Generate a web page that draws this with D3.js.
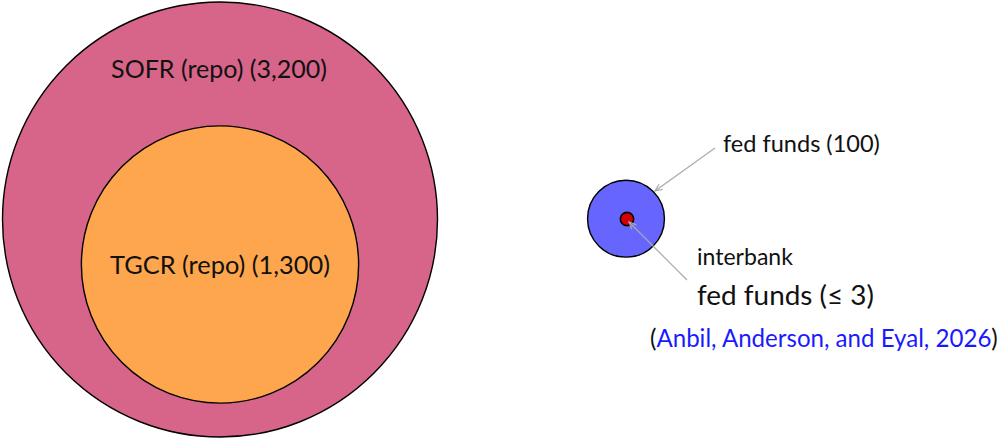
<!DOCTYPE html>
<html><head><meta charset="utf-8">
<script src="https://cdn.jsdelivr.net/npm/d3@7"></script>
<style>body{margin:0;background:#fff}svg{display:block}text{font-family:Lato,"DejaVu Sans",sans-serif;fill:#111}</style>
</head><body>
<svg id="c" width="1000" height="439"></svg>
<script>
const names = ["SOFR (repo)", "TGCR (repo)", "fed funds", "interbank fed funds"];
const values = [3200, 1300, 100, 3];
const labels = ["SOFR (repo) (3,200)", "TGCR (repo) (1,300)", "fed funds (100)", "fed funds (≤ 3)"];
const colors = ["#D76489", "#FDA64D", "#6666FF", "#D40000"];
const citation = ["Anbil, Anderson, and Eyal, 2026"];

const svg = d3.select("#c");
const r = d3.scaleSqrt().domain([0, 3200]).range([0, 217.5]);

// positions of the bubbles
const cx = [220, 220, 626, 627];
const cy = [219.5, 264.5, 218.7, 219];

svg.append("defs").append("marker").attr("id","arr").attr("viewBox","0 0 10 10")
  .attr("refX",9).attr("refY",5).attr("markerWidth",9).attr("markerHeight",9)
  .attr("orient","auto-start-reverse").attr("markerUnits","userSpaceOnUse")
  .append("path").attr("d","M1,1.5 L9,5 L1,8.5").attr("fill","none").attr("stroke","#aaa").attr("stroke-width",1.3);

svg.selectAll("circle.b").data(values).join("circle").attr("class","b")
  .attr("cx",(d,i)=>cx[i]).attr("cy",(d,i)=>cy[i]).attr("r",d=>r(d))
  .attr("fill",(d,i)=>colors[i]).attr("stroke","#000").attr("stroke-width",(d,i)=>i==3?1.6:1.4);

// arrows
svg.append("line").attr("x1",715).attr("y1",148).attr("x2",655).attr("y2",191)
  .attr("stroke","#aaa").attr("stroke-width",1.2).attr("marker-end","url(#arr)");
svg.append("line").attr("x1",687).attr("y1",280).attr("x2",629).attr("y2",222)
  .attr("stroke","#aaa").attr("stroke-width",1.2).attr("marker-end","url(#arr)");

function fitText(sel, w){
  const cur = sel.node().getComputedTextLength();
  const fs = parseFloat(sel.attr("font-size"));
  sel.attr("font-size", fs*w/cur);
}

const t0 = svg.append("text").attr("x",219).attr("y",78).attr("text-anchor","middle").attr("font-size",22).text(labels[0]);
fitText(t0, 216);
const t1 = svg.append("text").attr("x",220).attr("y",274).attr("text-anchor","middle").attr("font-size",22).text(labels[1]);
fitText(t1, 220);
const t2 = svg.append("text").attr("x",723).attr("y",152).attr("font-size",19).text(labels[2]);
fitText(t2, 157);
const t3 = svg.append("text").attr("x",697).attr("y",265).attr("font-size",19).text("interbank");
fitText(t3, 96);
const t4 = svg.append("text").attr("x",697).attr("y",305).attr("font-size",22).text(labels[3]);
fitText(t4, 177);
const t5 = svg.append("text").attr("x",650).attr("y",347).attr("font-size",22);
t5.append("tspan").text("(");
t5.append("tspan").style("fill","#1A1AFF").text(citation[0]);
t5.append("tspan").text(")");
fitText(t5, 348);
</script>
</body></html>
